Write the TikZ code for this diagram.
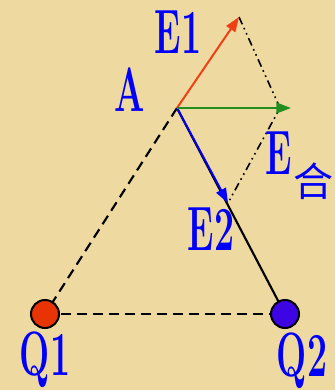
\documentclass[tikz,border=0pt]{standalone}
\usepackage{fontspec}
\newfontfamily\cjk{Noto Sans CJK SC}
\newfontfamily\lblfont[FakeStretch=0.57]{Latin Modern Roman}
\usetikzlibrary{arrows.meta, positioning}
\usepackage{xcolor}
\definecolor{bgyellow}{RGB}{238,217,160}
\definecolor{q1red}{RGB}{232,52,5}
\definecolor{q2blue}{RGB}{62,5,228}
\definecolor{e1red}{RGB}{238,64,20}
\definecolor{esumgreen}{RGB}{34,142,30}
\definecolor{lblblue}{RGB}{0,0,250}

\begin{document}
\begin{tikzpicture}[
    x=0.75pt, y=-0.75pt,
    charge/.style={circle, draw=black, line width=1.5pt, minimum size=21pt, inner sep=0pt},
    lbl/.style={text=lblblue, font=\lblfont\bfseries\fontsize{47}{47}\selectfont, inner sep=0pt},
    side/.style={black, line width=1.6pt},
    sideDashed/.style={black, line width=1.6pt, dash pattern=on 7.5pt off 4.5pt},
    helpLine/.style={black, line width=1.2pt, dash pattern=on 6pt off 3pt on 1.2pt off 3pt on 1.2pt off 3pt},
    fieldArrow/.style={line width=1.5pt, -{Triangle[length=11pt, width=8pt]}}
]
    % Background
    \fill[bgyellow] (0,0) rectangle (335,390);
    \useasboundingbox (0,0) rectangle (335,390);

    % Points
    \coordinate (A) at (177,108);
    \coordinate (E1tip) at (239,17);
    \coordinate (E2tip) at (228,203);
    \coordinate (Esum) at (280,108);
    \coordinate (Etip) at (291,108);

    % Triangle sides
    \draw[sideDashed] (A) -- (45,314) coordinate (q1c);
    \draw[sideDashed] (q1c) -- (300,314) coordinate (q2end);
    \draw[side] (A) -- (285,314) coordinate (q2c);

    % Charges
    \node[charge, fill=q1red] (Q1) at (q1c) {};
    \node[charge, fill=q2blue] (Q2) at (q2c) {};

    % Parallelogram
    \draw[helpLine] (E1tip) -- (Esum) -- (E2tip);

    % Field vectors
    \draw[fieldArrow, e1red] (A) -- (E1tip);
    \draw[fieldArrow, lblblue] (A) -- (E2tip);
    \draw[fieldArrow, esumgreen] (A) -- (Etip);

    % Labels
    \node[lbl] (labelA) at (130,90) {A};
    \node[lbl] (labelE1) at (178,32) {E1};
    \node[lbl] (labelE2) at (211,229) {E2};
    \node[lbl] (labelE) at (279,153) {E};
    \node[lbl, font=\cjk\fontsize{30}{30}\selectfont] (labelHe) at (313,181) {合};
    \node[lbl] (labelQ1) at (45,360) {Q1};
    \node[lbl] (labelQ2) at (302,361) {Q2};
\end{tikzpicture}
\end{document}
